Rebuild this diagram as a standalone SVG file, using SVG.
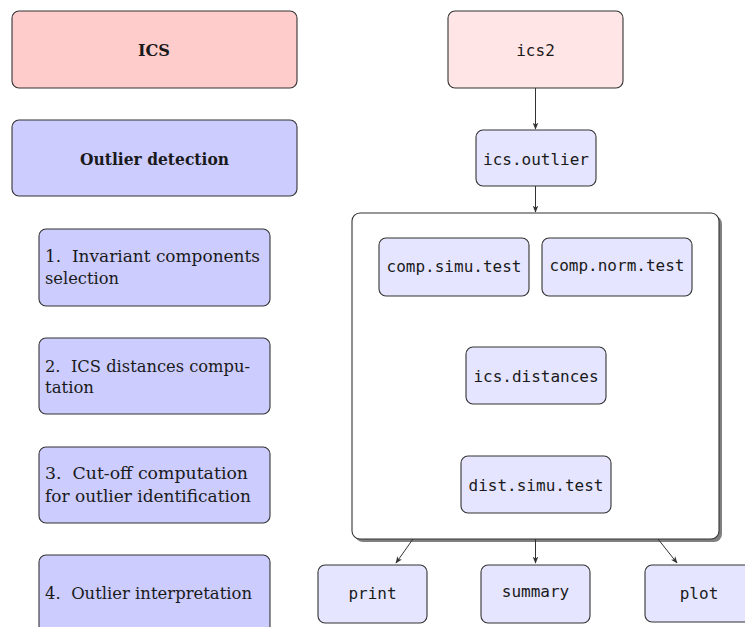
<svg xmlns="http://www.w3.org/2000/svg" width="745" height="627" viewBox="0 0 745 627">
<defs>
<style>
.red{fill:#ffcccc;stroke:#333;stroke-width:1.1}
.pink{fill:#ffe5e5;stroke:#333;stroke-width:1.1}
.blue{fill:#ccccff;stroke:#333;stroke-width:1.1}
.lb{fill:#e5e5ff;stroke:#333;stroke-width:1.1}
.white{fill:#fff;stroke:#333;stroke-width:1.1}
.serif{font-family:"DejaVu Serif","Liberation Serif",serif;font-size:16.5px;fill:#1a1a1a}
.bold{font-weight:bold;text-anchor:middle}
.mono{font-family:"DejaVu Sans Mono","Liberation Mono",monospace;font-size:16px;fill:#1a1a1a;text-anchor:middle}
.conn{stroke:#333;stroke-width:1;fill:none;marker-end:url(#ah)}
</style>
<marker id="ah" viewBox="0 0 10 10" refX="9" refY="5" markerWidth="7" markerHeight="7" markerUnits="userSpaceOnUse" orient="auto">
<path d="M0,1 L10,5 L0,9 L2.5,5 Z" fill="#333"/>
</marker>
</defs>
<rect width="745" height="627" fill="#fff"/>

<g id="ics"><rect class="red" x="12" y="11" width="285" height="77" rx="7"/><text class="serif bold" x="154" y="56" textLength="32" lengthAdjust="spacingAndGlyphs">ICS</text></g>
<g id="outlier-detection"><rect class="blue" x="12" y="120" width="285" height="76" rx="7"/><text class="serif bold" x="154.5" y="165" textLength="149" lengthAdjust="spacingAndGlyphs">Outlier detection</text></g>
<g id="step1"><rect class="blue" x="39" y="229" width="231" height="77" rx="7"/><text class="serif" x="45" y="262" textLength="215" lengthAdjust="spacingAndGlyphs" xml:space="preserve">1.  Invariant components</text><text class="serif" x="45" y="284" textLength="74" lengthAdjust="spacingAndGlyphs">selection</text></g>
<g id="step2"><rect class="blue" x="39" y="338" width="231" height="76" rx="7"/><text class="serif" x="45" y="372" textLength="205" lengthAdjust="spacingAndGlyphs" xml:space="preserve">2.  ICS distances compu-</text><text class="serif" x="45" y="393" textLength="49" lengthAdjust="spacingAndGlyphs">tation</text></g>
<g id="step3"><rect class="blue" x="39" y="447" width="231" height="76" rx="7"/><text class="serif" x="45" y="479" textLength="203" lengthAdjust="spacingAndGlyphs" xml:space="preserve">3.  Cut-off computation</text><text class="serif" x="45" y="502" textLength="206" lengthAdjust="spacingAndGlyphs">for outlier identification</text></g>
<g id="step4"><rect class="blue" x="39" y="555" width="231" height="90" rx="7"/><text class="serif" x="45" y="599" textLength="207" lengthAdjust="spacingAndGlyphs" xml:space="preserve">4.  Outlier interpretation</text></g>

<g id="ics2"><rect class="pink" x="448" y="11" width="175" height="77" rx="7"/><text class="mono" x="535.5" y="56">ics2</text></g>
<g id="ics-outlier"><rect class="lb" x="476" y="130" width="120" height="56" rx="7"/><text class="mono" x="536" y="165">ics.outlier</text></g>
<g id="container"><rect x="355" y="216" width="367" height="326" rx="8" fill="#808080"/><rect class="white" x="352" y="213" width="367" height="326" rx="8"/></g>
<g id="comp-simu-test"><rect class="lb" x="379" y="238" width="150" height="58" rx="7"/><text class="mono" x="454" y="272">comp.simu.test</text></g>
<g id="comp-norm-test"><rect class="lb" x="542" y="238" width="150" height="58" rx="7"/><text class="mono" x="617" y="271">comp.norm.test</text></g>
<g id="ics-distances"><rect class="lb" x="466" y="347" width="140" height="57" rx="7"/><text class="mono" x="536" y="382">ics.distances</text></g>
<g id="dist-simu-test"><rect class="lb" x="461" y="456" width="150" height="57" rx="7"/><text class="mono" x="536" y="491">dist.simu.test</text></g>
<g id="print"><rect class="lb" x="318" y="565" width="109" height="58" rx="7"/><text class="mono" x="372.5" y="599">print</text></g>
<g id="summary"><rect class="lb" x="481" y="565" width="109" height="58" rx="7"/><text class="mono" x="535.5" y="597">summary</text></g>
<g id="plot"><rect class="lb" x="645" y="565" width="108" height="57" rx="7"/><text class="mono" x="699" y="599">plot</text></g>

<g id="connectors">
<line class="conn" x1="535.5" y1="88" x2="535.5" y2="129"/>
<line class="conn" x1="535.5" y1="186" x2="535.5" y2="212"/>
<line class="conn" x1="413" y1="539" x2="396" y2="563"/>
<line class="conn" x1="535.5" y1="539" x2="535.5" y2="563"/>
<line class="conn" x1="658" y1="539" x2="677" y2="563"/>
</g>
</svg>
